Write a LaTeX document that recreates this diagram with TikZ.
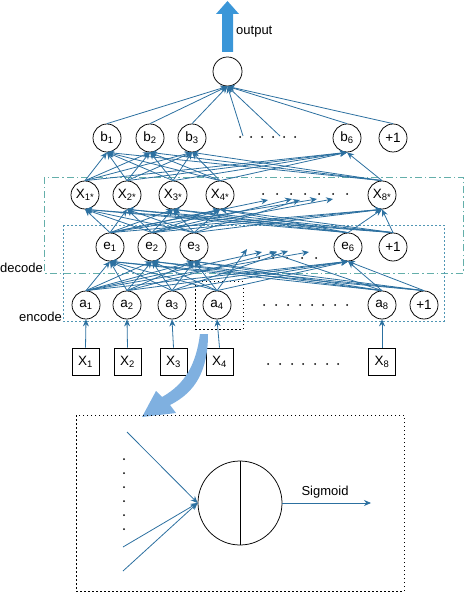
\documentclass[tikz,border=0pt]{standalone}
\usepackage{fontspec}
\setmainfont{Liberation Sans}
\usetikzlibrary{arrows.meta}
\definecolor{edge}{RGB}{44,112,160}
\definecolor{encc}{RGB}{80,150,180}
\definecolor{decc}{RGB}{100,175,170}
\definecolor{bigblue}{RGB}{58,150,216}
\definecolor{lightblue}{RGB}{127,176,224}
\begin{document}
\begin{tikzpicture}[x=1pt,y=-1pt,
  neuron/.style={circle,draw,line width=0.75pt,minimum size=28pt,inner sep=0pt,font=\fontsize{13.5}{15}\selectfont},
  inbox/.style={rectangle,draw,line width=0.75pt,minimum size=27pt,inner sep=0pt,font=\fontsize{13.5}{15}\selectfont},
  conn/.style={draw=edge,line width=0.8pt,-{Stealth[length=7pt,width=6pt]}},
  lbl/.style={font=\fontsize{13}{15}\selectfont,inner sep=0pt},
  dotted box/.style={draw=black,line width=0.7pt,dash pattern=on 1.5pt off 2.5pt}
]
\useasboundingbox (0,0) rectangle (466,593);

% group boxes
\draw[decc,line width=0.7pt,dash pattern=on 7pt off 3pt on 1.5pt off 3pt] (44,177) rectangle (463,273);
\draw[encc,line width=0.7pt,dash pattern=on 2pt off 2pt] (63,225) rectangle (444,321);
\draw[dotted box] (195,281) rectangle (243,329);
\node[lbl,anchor=base east] (declbl) at (43,272) {decode};
\node[lbl,anchor=base east] (enclbl) at (62,321) {encode};

% output
\node[neuron,minimum size=29pt] (out) at (227.5,71.5) {};
\fill[bigblue] (222,52) -- (222,14) -- (216,14) -- (227.5,1) -- (239,14) -- (233,14) -- (233,52) -- cycle;
\node[lbl,anchor=west] (outlbl) at (236,32) {output};

% b row
\node[neuron] (b1) at (107,138) {b\textsubscript{1}};
\node[neuron] (b2) at (150,138) {b\textsubscript{2}};
\node[neuron] (b3) at (192,138) {b\textsubscript{3}};
\node[neuron] (b6) at (347,138) {b\textsubscript{6}};
\node[neuron] (bp) at (393,138) {+1};
\coordinate (db1) at (243,136);
\coordinate (db2) at (280,136);
\foreach \x in {240,251,262,273,284,295} \fill (\x,137) circle (1pt);

% X* row
\node[neuron] (x1) at (85,195) {X\textsubscript{1*}};
\node[neuron] (x2) at (127,195) {X\textsubscript{2*}};
\node[neuron] (x3) at (173,195) {X\textsubscript{3*}};
\node[neuron] (x4) at (220,195) {X\textsubscript{4*}};
\node[neuron] (x8) at (382,195) {X\textsubscript{8*}};
\foreach \x in {263,277,291,305,319,333,347} \fill (\x,194) circle (1pt);
\coordinate (dx1) at (268,200);
\coordinate (dx2) at (292,199);
\coordinate (dx3) at (300,200);
\coordinate (dx4) at (317,199);
\coordinate (dx5) at (333,199);

% e row
\node[neuron] (e1) at (110,247) {e\textsubscript{1}};
\node[neuron] (e2) at (152,247) {e\textsubscript{2}};
\node[neuron] (e3) at (194,247) {e\textsubscript{3}};
\node[neuron] (e6) at (348,247) {e\textsubscript{6}};
\node[neuron] (ep) at (393,247) {+1};
\foreach \x in {259,273,287,302,316} \fill (\x,258) circle (1pt);
\coordinate (de1) at (247,249);
\coordinate (de2) at (262,252);
\coordinate (de3) at (269,252);
\coordinate (de4) at (277,252);
\coordinate (de5) at (288,251);
\coordinate (de6) at (309,252);

% a row
\node[neuron] (a1) at (86,305) {a\textsubscript{1}};
\node[neuron] (a2) at (127,305) {a\textsubscript{2}};
\node[neuron] (a3) at (172,305) {a\textsubscript{3}};
\node[neuron] (a4) at (217,305) {a\textsubscript{4}};
\node[neuron] (a8) at (382,305) {a\textsubscript{8}};
\node[neuron] (ap) at (424,305) {+1};
\foreach \x in {264,276,288,300,312,323,335,347} \fill (\x,305) circle (1pt);

% input boxes
\node[inbox] (X1) at (85.5,361.5) {X\textsubscript{1}};
\node[inbox] (X2) at (127.5,361.5) {X\textsubscript{2}};
\node[inbox] (X3) at (173.5,361.5) {X\textsubscript{3}};
\node[inbox] (X4) at (219.5,361.5) {X\textsubscript{4}};
\node[inbox] (X8) at (382,361.5) {X\textsubscript{8}};
\foreach \x in {268,280,292,303,315,327,338} \fill (\x,364) circle (1pt);

% connections
\foreach \s/\t in {X1/a1,X2/a2,X3/a3,X4/a4,X8/a8} \draw[conn] (\s.north) -- (\t.south);
\foreach \s in {a1,a2,a3,a4,a8,ap} \foreach \t in {e1,e2,e3,e6} \draw[conn] (\s.north) -- (\t.south);
\foreach \s/\t in {a4/de1,a1/de2,a8/de3,a2/de4,a3/de5,a1/de6} \draw[conn] (\s.north) -- (\t);
\foreach \s in {e1,e2,e3,e6,ep} \foreach \t in {x1,x2,x3,x4,x8} \draw[conn] (\s.north) -- (\t.south);
\foreach \s/\t in {e1/dx1,e2/dx2,e3/dx3,e1/dx4,e2/dx5} \draw[conn] (\s.north) -- (\t);
\foreach \s in {x1,x2,x3,x4,x8} \foreach \t in {b1,b2,b3,b6} \draw[conn] (\s.north) -- (\t.south);
\foreach \s in {b1,b2,b3,b6,bp} \draw[conn] (\s.north) -- (out.south);
\foreach \s in {db1,db2} \draw[conn] (\s) -- (out.south);

% big curved arrow
\fill[lightblue] (200,334) .. controls (196,365) and (185,384) .. (162,397) -- (156,391) -- (142,417) -- (176,413) -- (170,405) .. controls (196,392) and (208,370) .. (208,334) -- cycle;

% detail box
\draw[dotted box] (76,415) rectangle (404,591);
\node[circle,draw,line width=0.75pt,minimum size=84pt,inner sep=0pt] (neu) at (240,503) {};
\draw[line width=0.75pt] (neu.north) -- (neu.south);
\coordinate (in1) at (127,432);
\coordinate (in2) at (123,547);
\coordinate (in3) at (123,571);
\coordinate (sigend) at (371,503);
\foreach \s in {in1,in2,in3} \draw[conn] (\s) -- (neu.west);
\draw[conn] (neu.east) -- (sigend);
\node[lbl] (siglbl) at (325,492) {Sigmoid};
\foreach \y in {459,473,487,501,515,529} \fill (124,\y) circle (1pt);
\end{tikzpicture}
\end{document}
